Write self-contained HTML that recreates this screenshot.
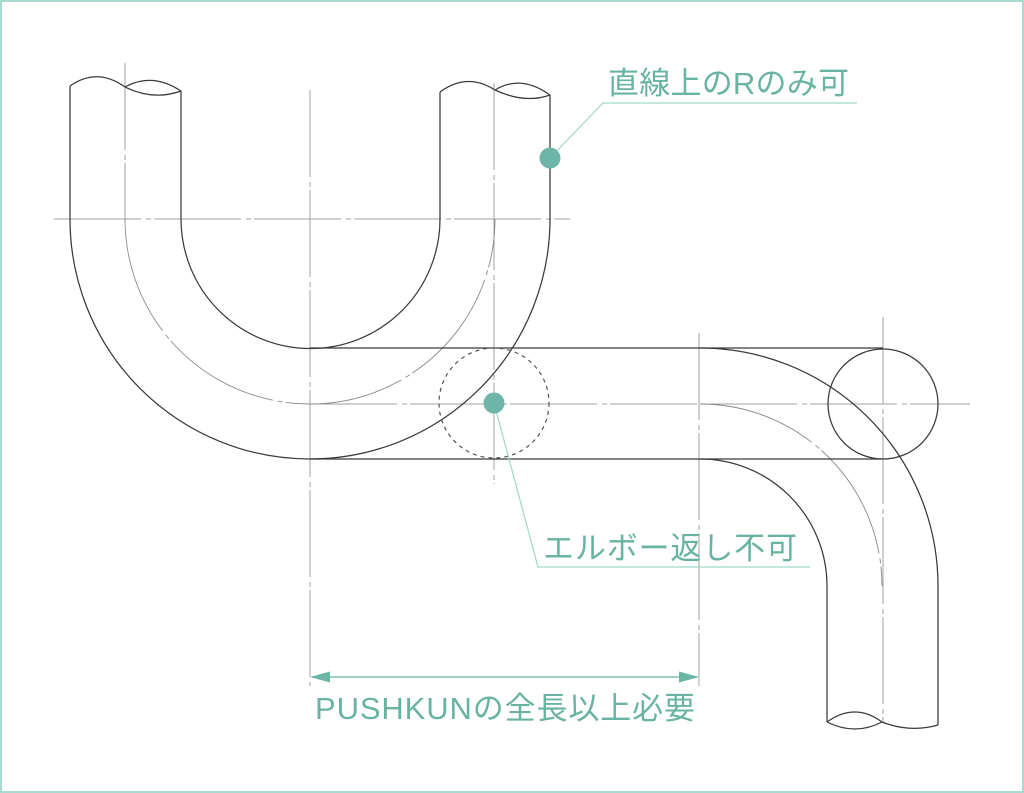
<!DOCTYPE html>
<html>
<head>
<meta charset="utf-8">
<style>
  html,body{margin:0;padding:0;background:#fff;}
  svg{display:block;}
  text{font-family:"Liberation Sans","Noto Sans CJK JP",sans-serif;fill:#69b3a3;}
</style>
</head>
<body>
<svg width="1024" height="793" viewBox="0 0 1024 793" xmlns="http://www.w3.org/2000/svg">
  <rect x="0" y="0" width="1024" height="793" fill="#fff"/>
  <rect x="1" y="1" width="1022" height="791" fill="none" stroke="#a9dad0" stroke-width="2"/>

  <!-- center lines -->
  <g stroke="#a0a0a0" stroke-width="1" fill="none" stroke-dasharray="87 5 5 3">
    <line x1="54" y1="219" x2="570" y2="219"/>
    <line x1="125" y1="63" x2="125" y2="219"/>
    <line x1="310" y1="90" x2="310" y2="686"/>
    <line x1="494" y1="83" x2="494" y2="484"/>
    <line x1="310" y1="404" x2="970" y2="404"/>
    <line x1="699" y1="333" x2="699" y2="686"/>
    <line x1="883" y1="317" x2="883" y2="722"/>
  </g>
  <g stroke="#8a8a8a" stroke-width="0.9" fill="none" stroke-dasharray="120 5 5 3">
    <path d="M125,219 A185,185 0 0 0 495,219"/>
    <path d="M700,404 A182,182 0 0 1 882,586"/>
  </g>

  <!-- pipe outlines -->
  <g stroke="#3a3a3a" stroke-width="1.25" fill="none">
    <path d="M70,86 L70,219 A240,240 0 0 0 550,219 L550,95"/>
    <path d="M181,91 L181,219 A129.5,129.5 0 0 0 440,219 L440,92"/>
    <path d="M70,86 Q97,67 125,87"/>
    <path d="M125,87 Q152,72 181,91"/>
    <path d="M125,87 Q153,101 181,91"/>
    <path d="M440,92 Q467,72 495,90"/>
    <path d="M495,90 Q521,74 550,95"/>
    <path d="M495,90 Q525,104 550,95"/>
    <line x1="310" y1="348" x2="883" y2="348"/>
    <line x1="310" y1="459" x2="883" y2="459"/>
    <path d="M700,348 A238,238 0 0 1 938,586 L938,725"/>
    <path d="M700,459 A127,127 0 0 1 827,586 L827,722"/>
    <path d="M827,722 Q855,702 882,722"/>
    <path d="M827,722 Q855,736 882,722"/>
    <path d="M882,722 Q910,733 938,725"/>
    <circle cx="883" cy="404" r="55"/>
  </g>
  <circle cx="494" cy="403" r="55" fill="none" stroke="#555" stroke-width="1.2" stroke-dasharray="4 4"/>

  <!-- leaders -->
  <g stroke="#9fd6cb" stroke-width="1.2" fill="none">
    <polyline points="550,158 603,103 857,103"/>
    <polyline points="494,403 538,567 810,567"/>
  </g>
  <circle cx="550" cy="158" r="10.5" fill="#6db5a6"/>
  <circle cx="494" cy="403" r="10.5" fill="#6db5a6"/>

  <!-- dimension -->
  <line x1="312" y1="677" x2="697" y2="677" stroke="#7cc0b2" stroke-width="1.5"/>
  <polygon points="310,677 330,671.5 330,682.5" fill="#6db5a6"/>
  <polygon points="699,677 679,671.5 679,682.5" fill="#6db5a6"/>

  <!-- labels -->
  <text x="608" y="94" font-size="31" textLength="241" lengthAdjust="spacing">直線上のRのみ可</text>
  <text x="543" y="559" font-size="31" textLength="254" lengthAdjust="spacing">エルボー返し不可</text>
  <text x="315" y="719" font-size="31" textLength="380" lengthAdjust="spacing">PUSHKUNの全長以上必要</text>
</svg>
</body>
</html>
